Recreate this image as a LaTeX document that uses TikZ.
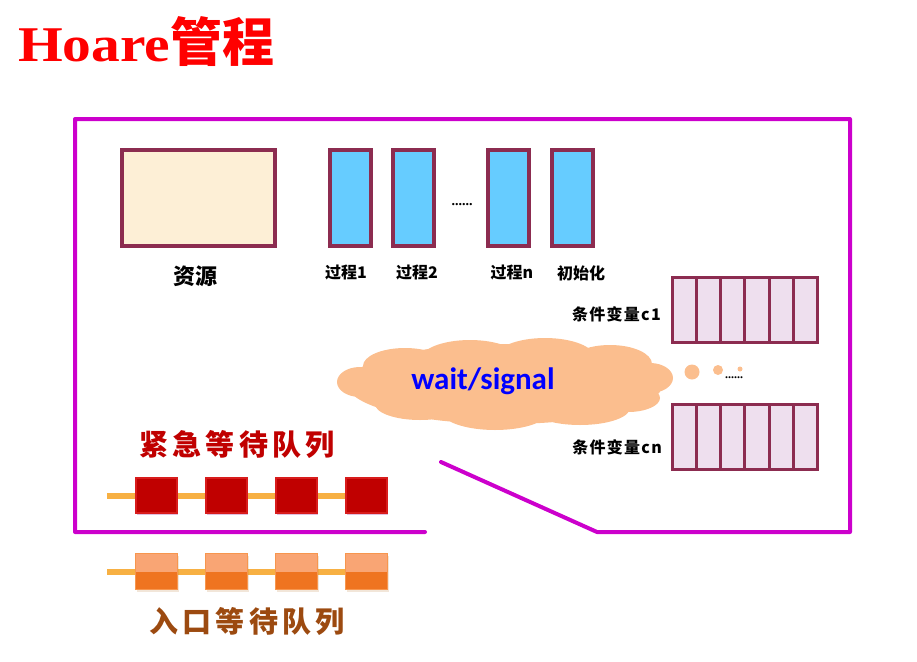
\documentclass[tikz,border=0pt]{standalone}
\usepackage{fontspec}
\setmainfont{Liberation Serif}
\newfontfamily\titlefont[FakeStretch=1.15]{Liberation Serif}
\newfontfamily\cjk{Noto Sans CJK SC}
\newfontfamily\cjkmid[LetterSpace=8]{Noto Sans CJK SC}
\newfontfamily\cjkspaced[LetterSpace=14]{Noto Sans CJK SC}
\newfontfamily\wsfont{Carlito}
\usetikzlibrary{shadows}
\definecolor{magentaB}{HTML}{CC00CC}
\definecolor{boxedge}{HTML}{8C2C50}
\definecolor{cream}{HTML}{FDEFD6}
\definecolor{procblue}{HTML}{66CCFF}
\definecolor{cellfill}{HTML}{EEDFEE}
\definecolor{cloudfill}{HTML}{FBBE8E}
\definecolor{qline}{HTML}{F7B043}
\definecolor{redsq}{HTML}{C00000}
\definecolor{redsqedge}{HTML}{D81C1C}
\definecolor{ortop}{HTML}{F9A574}
\definecolor{orbot}{HTML}{EF7420}
\definecolor{oredge}{HTML}{F7964E}
\definecolor{emtext}{HTML}{C00000}
\definecolor{entext}{HTML}{9C4A10}
\begin{document}
\begin{tikzpicture}[x=1pt,y=-1pt,
  border/.style={draw=magentaB,line width=4pt,line cap=round,line join=round},
  resbox/.style={draw=boxedge,line width=3.5pt,fill=cream,minimum width=153pt,minimum height=96pt,inner sep=0},
  procbox/.style={draw=boxedge,line width=3.5pt,fill=procblue,minimum width=41pt,minimum height=96pt,inner sep=0},
  lbl/.style={font=\cjk\bfseries\fontsize{16}{16}\selectfont,text=black,inner sep=0},
  cvlbl/.style={font=\cjkmid\bfseries\fontsize{16}{16}\selectfont,text=black,inner sep=0,anchor=east},
  cell/.style={draw=boxedge,line width=3pt,fill=cellfill,minimum width=24.3pt,minimum height=65pt,inner sep=0},
  qlink/.style={draw=qline,line width=6pt},
  redbox/.style={draw=redsqedge,line width=2.5pt,fill=redsq,minimum width=41pt,minimum height=35pt,inner sep=0,
    drop shadow={opacity=0.25,shadow xshift=1pt,shadow yshift=-2pt,fill=violet}},
  orbox/.style={draw=oredge,line width=1.5pt,fill=ortop,minimum width=42pt,minimum height=36pt,inner sep=0,
    path picture={\fill[orbot] (path picture bounding box.west) rectangle (path picture bounding box.south east);},
    drop shadow={opacity=0.2,shadow xshift=1pt,shadow yshift=-2pt,fill=brown}},
  puff/.style={fill=cloudfill,draw=none}
]
\useasboundingbox (0,0) rectangle (917,661);
% title
\node[anchor=base west,inner sep=0,text=red] (title) at (18,62)
  {{\titlefont\bfseries\fontsize{50}{50}\selectfont Hoare}{\cjk\bfseries\fontsize{52}{52}\selectfont 管程}};
% outer border
\draw[border] (425,532) -- (75,532) -- (75,119) -- (850,119) -- (850,532) -- (597,532) -- (441,462);
% resource
\node[resbox] (res) at (198.5,198) {};
\node[font=\cjk\bfseries\fontsize{22}{22}\selectfont,inner sep=0] (reslbl) at (195,276) {资源};
% processes
\node[procbox] (p1) at (350.5,198) {};
\node[procbox] (p2) at (413.5,198) {};
\node[procbox] (pn) at (508.5,198) {};
\node[procbox] (pi) at (572.5,198) {};
\node[inner sep=0,font=\bfseries\fontsize{14}{14}\selectfont] (pdots) at (462,205) {......};
\node[lbl] (l1) at (346,273) {过程1};
\node[lbl] (l2) at (417,273) {过程2};
\node[lbl] (ln) at (512,273) {过程n};
\node[lbl] (li) at (581,273) {初始化};
% condition queues
\foreach \i in {0,...,5}{
  \node[cell] (ca\i) at ({684.2+\i*24.3},309.5) {};
  \node[cell] (cb\i) at ({684.2+\i*24.3},436.5) {};
}
\node[cvlbl] (c1lbl) at (661,314) {条件变量c1};
\node[cvlbl] (cnlbl) at (662,447) {条件变量cn};
% cloud
\fill[cloudfill] (505,384) ellipse[x radius=158,y radius=40]
  (360,382) ellipse[x radius=23,y radius=15]
  (650,378) ellipse[x radius=23,y radius=15]
  (405,366) ellipse[x radius=42,y radius=18]
  (470,360) ellipse[x radius=50,y radius=20]
  (545,358) ellipse[x radius=50,y radius=20]
  (610,364) ellipse[x radius=42,y radius=19]
  (420,404) ellipse[x radius=45,y radius=16]
  (495,410) ellipse[x radius=55,y radius=20]
  (580,408) ellipse[x radius=50,y radius=17]
  (628,398) ellipse[x radius=32,y radius=14];
\node[text=blue,font=\wsfont\bfseries\fontsize{31}{31}\selectfont,inner sep=0] (ws) at (483,381) {wait/signal};
\node[puff,circle,minimum size=15pt,inner sep=0] (d1) at (692,372) {};
\node[puff,circle,minimum size=10pt,inner sep=0] (d2) at (718,370) {};
\node[puff,circle,minimum size=5pt,inner sep=0] (d3) at (740,369) {};
\node[inner sep=0,font=\bfseries\fontsize{12}{12}\selectfont] (cdots) at (734,378) {......};
% emergency queue
\node[text=emtext,font=\cjkspaced\bfseries\fontsize{29}{29}\selectfont,inner sep=0] (emlbl) at (237,444) {紧急等待队列};
\coordinate (es) at (107,496);
\coordinate (ns) at (107,572);
\draw[qlink] (es) -- (366,496);
\draw[qlink] (ns) -- (366,572);
\node[redbox] (e1) at (156.5,495.5) {};
\node[redbox] (e2) at (226.5,495.5) {};
\node[redbox] (e3) at (296.5,495.5) {};
\node[redbox] (e4) at (366.5,495.5) {};
% entry queue
\node[orbox] (n1) at (156.5,571.5) {};
\node[orbox] (n2) at (226.5,571.5) {};
\node[orbox] (n3) at (296.5,571.5) {};
\node[orbox] (n4) at (366.5,571.5) {};
\node[text=entext,font=\cjkspaced\bfseries\fontsize{29}{29}\selectfont,inner sep=0] (enlbl) at (247,621) {入口等待队列};
\end{tikzpicture}
\end{document}
